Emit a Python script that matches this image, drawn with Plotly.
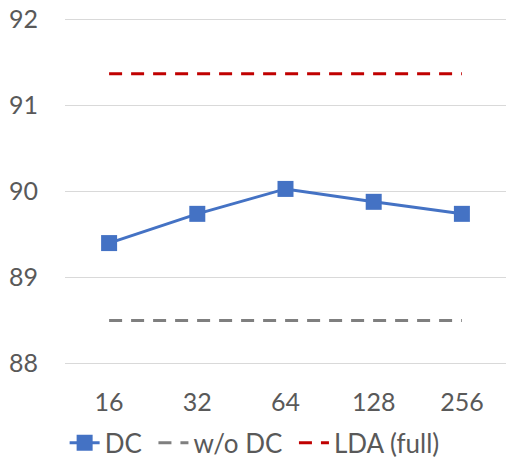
import plotly.graph_objects as go

categories = ["16", "32", "64", "128", "256"]
dc_values = [89.40, 89.74, 90.03, 89.88, 89.74]
wo_dc_values = [88.5, 88.5, 88.5, 88.5, 88.5]
lda_full_values = [91.37, 91.37, 91.37, 91.37, 91.37]
y_ticks = [88, 89, 90, 91, 92]

fig = go.Figure()
fig.add_trace(go.Scatter(
    x=categories, y=dc_values, name="DC\u00a0", mode="lines+markers",
    line=dict(color="#4472C4", width=3),
    marker=dict(symbol="square", size=16, color="#4472C4"),
))
fig.add_trace(go.Scatter(
    x=categories, y=wo_dc_values, name="w/o DC\u00a0", mode="lines",
    line=dict(color="#7F7F7F", width=3, dash="13px,9px"),
))
fig.add_trace(go.Scatter(
    x=categories, y=lda_full_values, name="LDA (full)", mode="lines",
    line=dict(color="#C00000", width=3, dash="13px,9px"),
))

fig.update_layout(
    width=506, height=459,
    margin=dict(l=65, r=0, t=17, b=93, autoexpand=False),
    paper_bgcolor="white", plot_bgcolor="white",
    font=dict(family="Lato, Noto Sans, sans-serif", size=25, color="#595959"),
    showlegend=True,
    legend=dict(orientation="h", x=0.43, xanchor="center", y=-0.22, yanchor="middle",
                font=dict(size=26, color="#595959"), itemwidth=30, tracegroupgap=0),
    xaxis=dict(type="category", range=[-0.5, 4.5], showgrid=False, zeroline=False,
               showline=False, ticks="", ticklabelstandoff=19, fixedrange=True,
               automargin=False),
    yaxis=dict(range=[87.97, 92.03], tickvals=y_ticks, showgrid=True, gridcolor="#D9D9D9",
               gridwidth=1.3, zeroline=False, showline=False, ticks="",
               ticklabelstandoff=26, fixedrange=True, automargin=False),
)

fig.write_html("out.html", config={"displayModeBar": False},
               post_script="document.body.style.margin='0';")
